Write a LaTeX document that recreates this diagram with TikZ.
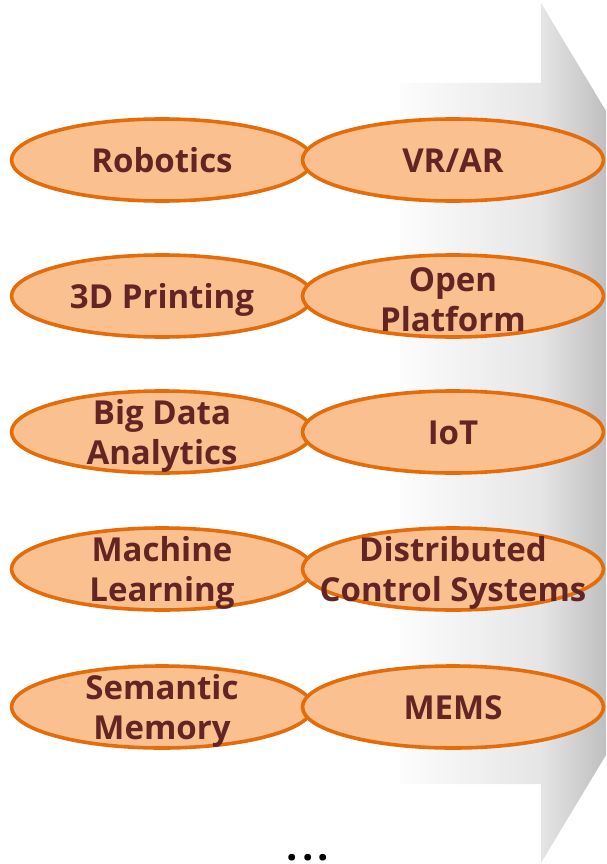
\documentclass[tikz,border=0pt]{standalone}
\usepackage{fontspec}
\setmainfont{Open Sans}
\usetikzlibrary{shapes.geometric}
\definecolor{ovalfill}{HTML}{FAC090}
\definecolor{ovalline}{HTML}{E46C0A}
\definecolor{ovaltext}{HTML}{632523}
% grey fade of the big arrow, from near white on the left to grey at the head
\pgfdeclarehorizontalshading{arrowfade}{100bp}{%
  color(0bp)=(white!99!black); color(25bp)=(white!99!black);
  color(59bp)=(white!90!black);
  color(75bp)=(white!75!black); color(100bp)=(white!75!black)}
\begin{document}
\begin{tikzpicture}[x=1pt,y=-1pt,
  tag/.style={ellipse, draw=ovalline, line width=3.6pt, fill=ovalfill,
    minimum width=301pt, minimum height=82pt, inner sep=0pt},
  tagtext/.style={font=\bfseries\fontsize{33}{40}\selectfont,
    text=ovaltext, align=center, inner sep=0pt},
  oneline/.style={tagtext, text height=24pt, text depth=0pt},
  twoline/.style={tagtext, yshift=-4pt}]
\useasboundingbox (0,0) rectangle (606,864);

% background arrow
\shade[shading=arrowfade] (400,83) -- (541,83) -- (541,3) -- (606,111)
  -- (606,755) -- (541,863) -- (541,784) -- (400,784) -- cycle;

% left column
\node[tag] (robotics) at (162,160) {};
\node[oneline] at (robotics) {Robotics};
\node[tag] (printing) at (162,296) {};
\node[oneline] at (printing) {3D Printing};
\node[tag] (bigdata) at (162,432) {};
\node[twoline] at (bigdata) {Big Data\\Analytics};
\node[tag] (learning) at (162,569) {};
\node[twoline] at (learning) {Machine\\Learning};
\node[tag] (memory) at (162,707) {};
\node[twoline] at (memory) {Semantic\\Memory};

% right column
\node[tag] (vrar) at (453,160) {};
\node[oneline] at (vrar) {VR/AR};
\node[tag] (platform) at (453,296) {};
\node[twoline] at (platform) {Open\\Platform};
\node[tag] (iot) at (453,432) {};
\node[oneline] at (iot) {IoT};
\node[tag] (dcs) at (453,569) {};
\node[twoline] at (dcs) {Distributed\\Control Systems};
\node[tag] (mems) at (453,707) {};
\node[oneline] at (mems) {MEMS};

% continuation mark
\node[anchor=base, inner sep=0pt, font=\bfseries\fontsize{40}{40}\selectfont]
  (more) at (308,860) {.\hspace{4pt}.\hspace{4pt}.};
\end{tikzpicture}
\end{document}
